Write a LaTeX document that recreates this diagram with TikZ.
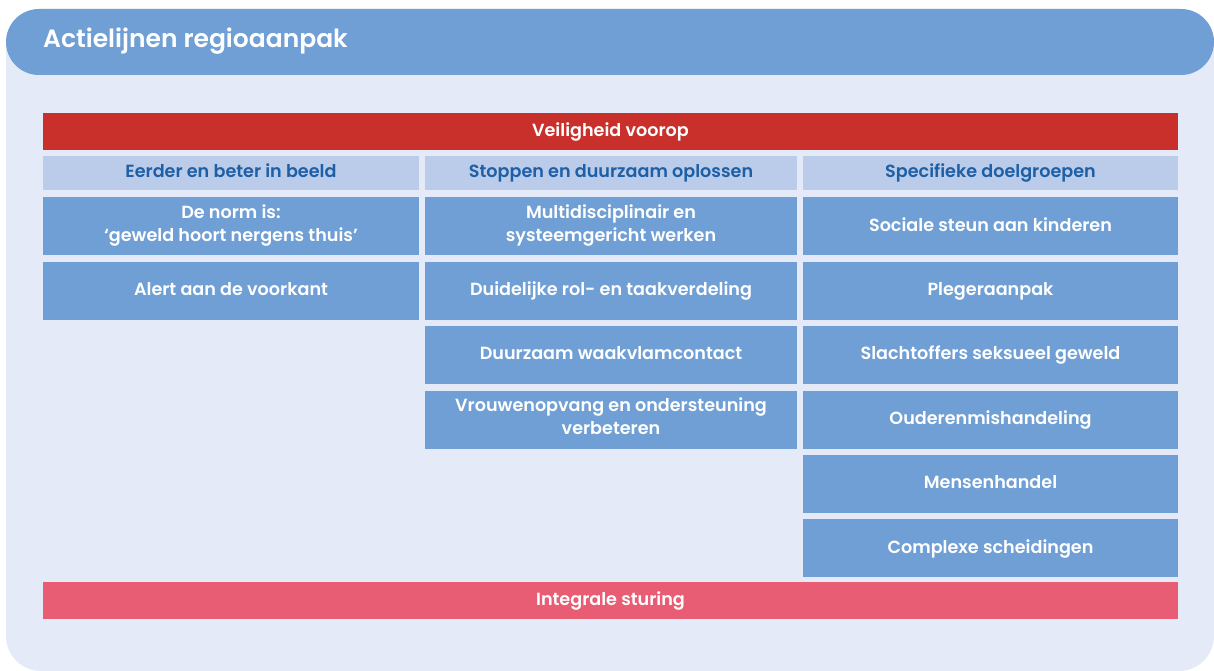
\documentclass[tikz,border=0pt]{standalone}
\usepackage{fontspec}
\setmainfont{Poppins}[BoldFont={Poppins SemiBold}]
\usetikzlibrary{positioning}
\definecolor{panelbg}{HTML}{E4EAF7}
\definecolor{bandblue}{HTML}{6F9FD4}
\definecolor{headbg}{HTML}{BACCEA}
\definecolor{headtext}{HTML}{1E5FA6}
\definecolor{safered}{HTML}{C9302C}
\definecolor{steerpink}{HTML}{E85D74}
\tikzset{
  cell/.style={
    % The shape:
    rectangle,
    % The size:
    minimum height=58pt,
    inner sep=0pt,
    % The filling:
    fill=bandblue,
    % Font
    text=white,
    font=\fontsize{17.6}{23}\selectfont\bfseries,
    align=center,
    % keep lines centred the same way
    execute at begin node=\strut,
    execute at end node=\strut
  },
  colhead/.style={
    cell,
    minimum height=34pt,
    fill=headbg,
    text=headtext
  },
  bar/.style={
    cell,
    minimum width=1135pt,
    minimum height=37pt
  }
}

\begin{document}
\begin{tikzpicture}[x=1pt, y=-1pt]

  \useasboundingbox (0, 0) rectangle (1214, 671);

  % panel and title band
  \fill [panelbg, rounded corners=35pt] (6, 9) rectangle (1214, 671);
  \fill [bandblue, rounded corners=33pt] (6, 9) rectangle (1214, 75);
  \node at (43, 41) (title) [anchor=west, text=white, inner sep=0pt, font=\fontsize{25}{28}\selectfont\bfseries] {Actielijnen regioaanpak};

  \node at (610.5, 131.5) (safety) [bar, fill=safered] {Veiligheid voorop};

  % column heads
  \node at (231, 173) (head1) [colhead, minimum width=376pt] {Eerder en beter in beeld};
  \node at (611, 173) (head2) [colhead, minimum width=372pt] {Stoppen en duurzaam oplossen};
  \node at (990.5, 173) (head3) [colhead, minimum width=375pt] {Specifieke doelgroepen};

  % first column
  \node (norm) [cell, minimum width=376pt, below=7pt of head1] {De norm is:\\‘geweld hoort nergens thuis’};
  \node (alert) [cell, minimum width=376pt, below=6pt of norm] {Alert aan de voorkant};

  % second column
  \node (multi) [cell, minimum width=372pt, below=7pt of head2] {Multidisciplinair en\\systeemgericht werken};
  \node (roles) [cell, minimum width=372pt, below=6pt of multi] {Duidelijke rol- en taakverdeling};
  \node (pilot) [cell, minimum width=372pt, below=6pt of roles] {Duurzaam waakvlamcontact};
  \node (shelter) [cell, minimum width=372pt, below=6pt of pilot] {Vrouwenopvang en ondersteuning\\verbeteren};

  % third column
  \node (kids) [cell, minimum width=375pt, below=7pt of head3] {Sociale steun aan kinderen};
  \node (offender) [cell, minimum width=375pt, below=6pt of kids] {Plegeraanpak};
  \node (victims) [cell, minimum width=375pt, below=6pt of offender] {Slachtoffers seksueel geweld};
  \node (elderly) [cell, minimum width=375pt, below=6pt of victims] {Ouderenmishandeling};
  \node (traffic) [cell, minimum width=375pt, below=6pt of elderly] {Mensenhandel};
  \node (divorce) [cell, minimum width=375pt, below=6pt of traffic] {Complexe scheidingen};

  \node at (610.5, 600.5) (steering) [bar, fill=steerpink] {Integrale sturing};

\end{tikzpicture}
\end{document}
